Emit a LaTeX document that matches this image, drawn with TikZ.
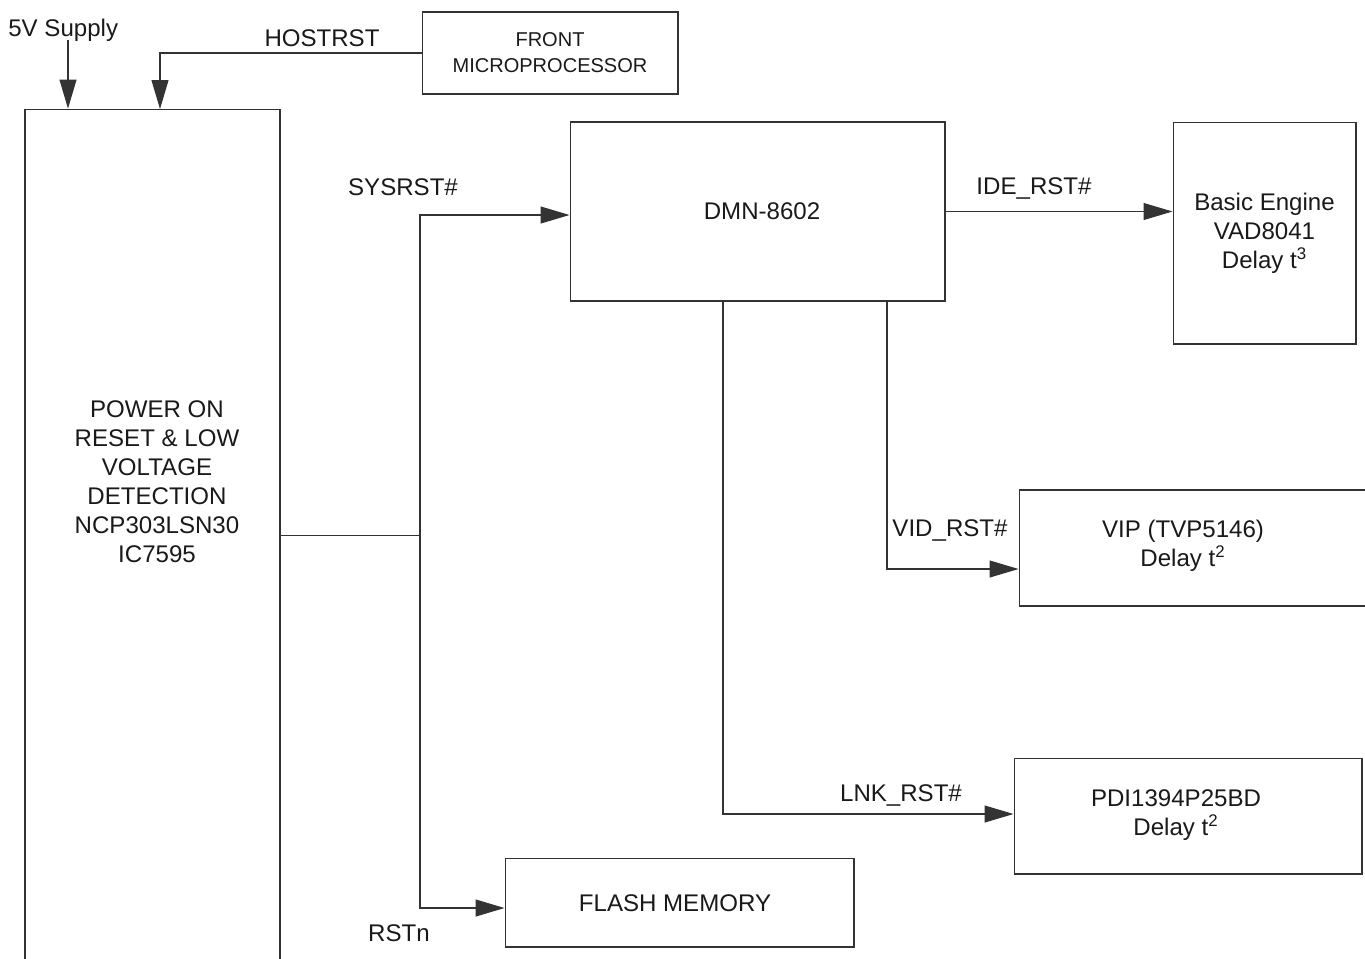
\documentclass[tikz,border=0pt]{standalone}
\usepackage{fontspec}
\setmainfont{Liberation Sans}
\usetikzlibrary{arrows.meta,positioning}

\begin{document}
\begin{tikzpicture}[x=0.02cm,y=-0.02cm,
    blk/.style={draw=black!80,line width=0.6pt,inner sep=0pt,align=center,
      text=black!90,font=\fontsize{13.7}{16.5}\selectfont},
    sig/.style={draw=black!80,line width=0.6pt,
      -{Triangle[length=0.58cm,width=0.34cm]}},
    wire/.style={draw=black!80,line width=0.6pt},
    lbl/.style={inner sep=0pt,text=black!90,font=\fontsize{13.7}{16.5}\selectfont}]
	\useasboundingbox (0,0) rectangle (1365,958);
	% boxes
	\node[blk,minimum width=5.1cm,minimum height=17.06cm] (pwr) at (152.5,535.5) {};
	\node[lbl,align=center] (pwrtext) at (157,482) {POWER ON\\RESET \& LOW\\VOLTAGE\\DETECTION\\NCP303LSN30\\IC7595};
	\node[blk,minimum width=5.12cm,minimum height=1.64cm,font=\fontsize{11.4}{14.7}\selectfont] (front) at (550,53) {FRONT\\MICROPROCESSOR};
	\node[blk,minimum width=7.5cm,minimum height=3.58cm] (dmn) at (757.5,211.5) {};
	\node[lbl] (dmntext) at (762,211) {DMN-8602};
	\node[blk,minimum width=3.66cm,minimum height=4.44cm] (be) at (1264.5,233) {Basic Engine\\VAD8041\\Delay t\textsuperscript{3}};
	\node[blk,minimum width=6.94cm,minimum height=2.32cm] (vip) at (1192.5,548) {};
	\node[lbl,align=center] (viptext) at (1183,546) {VIP (TVP5146)\\Delay t\textsuperscript{2}};
	\node[blk,minimum width=6.96cm,minimum height=2.32cm] (pdi) at (1188,816) {};
	\node[lbl,align=center] (pditext) at (1176,815) {PDI1394P25BD\\Delay t\textsuperscript{2}};
	\node[blk,minimum width=6.98cm,minimum height=1.78cm] (flash) at (679.5,902.5) {};
	\node[lbl] (flashtext) at (675,903) {FLASH MEMORY};
	% inputs
	\coordinate (v5) at (68,40);
	\coordinate (hostin) at (160,109);
	\draw[sig] (v5) -- (v5 |- pwr.north);
	\draw[sig] (front.west) -| (hostin);
	% reset tree
	\coordinate (junc) at (420,535.5);
	\draw[wire] (pwr.east) -- (junc);
	\draw[sig] (junc) |- ([yshift=-0.07cm]dmn.west);
	\draw[sig] (junc) |- ([yshift=-0.11cm]flash.west);
	\draw[sig] (dmn.east) -- (be.west |- dmn.east);
	\draw[sig] ([xshift=2.59cm]dmn.south) |- ([yshift=-0.42cm]vip.west);
	\draw[sig] ([xshift=-0.69cm]dmn.south) |- ([yshift=0.04cm]pdi.west);
	% labels
	\node[lbl,anchor=west] (l5v) at (8,30) {5V Supply};
	\node[lbl] (lhost) at (322,38) {HOSTRST};
	\node[lbl] (lsys) at (403,187) {SYSRST\#};
	\node[lbl] (lide) at (1034,188) {IDE\_RST\#};
	\node[lbl] (lvid) at (950,530) {VID\_RST\#};
	\node[lbl] (llnk) at (901,795) {LNK\_RST\#};
	\node[lbl] (lrst) at (399,933) {RSTn};
\end{tikzpicture}
\end{document}
